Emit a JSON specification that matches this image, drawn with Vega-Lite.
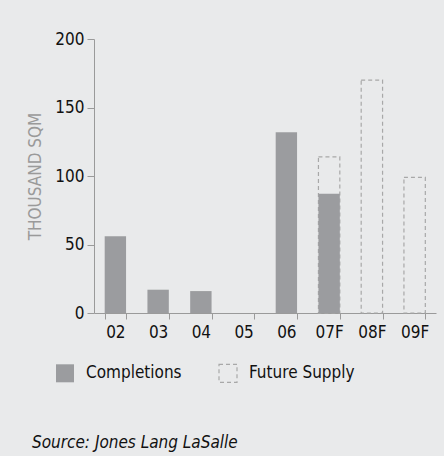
{
  "$schema": "https://vega.github.io/schema/vega-lite/v6.json",
  "width": 342,
  "height": 274,
  "autosize": {"type": "none"},
  "padding": {"left": 94, "top": 39, "right": 8, "bottom": 143},
  "background": "#e9eaeb",
  "config": {
    "view": {"stroke": null},
    "font": "DejaVu Sans Condensed, Roboto, sans-serif",
    "axis": {"grid": false, "domainColor": "#9a9a9a", "tickColor": "#9a9a9a", "labelColor": "#111111", "labelFont": "DejaVu Sans Condensed, Roboto, sans-serif"},
    "legend": {"labelFont": "DejaVu Sans Condensed, Roboto, sans-serif"}
  },
  "title": {
    "text": "Source: Jones Lang LaSalle",
    "orient": "bottom",
    "anchor": "start",
    "frame": "group",
    "font": "DejaVu Sans Condensed, Roboto, sans-serif",
    "fontStyle": "italic",
    "fontWeight": "normal",
    "fontSize": 17,
    "color": "#111111",
    "dx": -62,
    "offset": 50
  },
  "data": {
    "values": [
      {"period": "07F", "series": "Future Supply", "value": 114},
      {"period": "08F", "series": "Future Supply", "value": 170},
      {"period": "09F", "series": "Future Supply", "value": 99},
      {"period": "02", "series": "Completions", "value": 56},
      {"period": "03", "series": "Completions", "value": 17},
      {"period": "04", "series": "Completions", "value": 16},
      {"period": "05", "series": "Completions", "value": 0},
      {"period": "06", "series": "Completions", "value": 132},
      {"period": "07F", "series": "Completions", "value": 87}
    ]
  },
  "mark": {"type": "bar", "strokeWidth": 1.2},
  "encoding": {
    "x": {
      "field": "period",
      "type": "nominal",
      "sort": null,
      "scale": {"domain": ["02", "03", "04", "05", "06", "07F", "08F", "09F"], "paddingInner": 0.5, "paddingOuter": 0.25},
      "axis": {"title": null, "labelAngle": 0, "tickSize": 6, "tickBand": "extent", "labelFontSize": 17, "labelPadding": 5}
    },
    "y": {
      "field": "value",
      "type": "quantitative",
      "stack": null,
      "scale": {"domain": [0, 200]},
      "axis": {
        "title": "THOUSAND SQM",
        "titleColor": "#9a9a9a",
        "titleFont": "DejaVu Sans Condensed, Roboto, sans-serif",
        "titleFontSize": 17,
        "titleFontWeight": "normal",
        "titlePadding": 10,
        "values": [0, 50, 100, 150, 200],
        "tickSize": 7,
        "labelFontSize": 17,
        "labelPadding": 3
      }
    },
    "fill": {
      "field": "series",
      "type": "nominal",
      "scale": {"domain": ["Completions", "Future Supply"], "range": ["#9b9c9f", "transparent"]},
      "legend": {
        "title": null,
        "orient": "none",
        "legendX": -39,
        "legendY": 324,
        "direction": "horizontal",
        "symbolType": "square",
        "symbolSize": 324,
        "symbolStrokeWidth": 1.2,
        "labelFontSize": 17,
        "labelColor": "#111111",
        "labelOffset": 11,
        "columnPadding": 34
      }
    },
    "stroke": {
      "field": "series",
      "type": "nominal",
      "scale": {"domain": ["Completions", "Future Supply"], "range": ["transparent", "#a8a8a8"]}
    },
    "strokeDash": {
      "field": "series",
      "type": "nominal",
      "scale": {"domain": ["Completions", "Future Supply"], "range": [[1, 0], [4, 3]]}
    }
  }
}
